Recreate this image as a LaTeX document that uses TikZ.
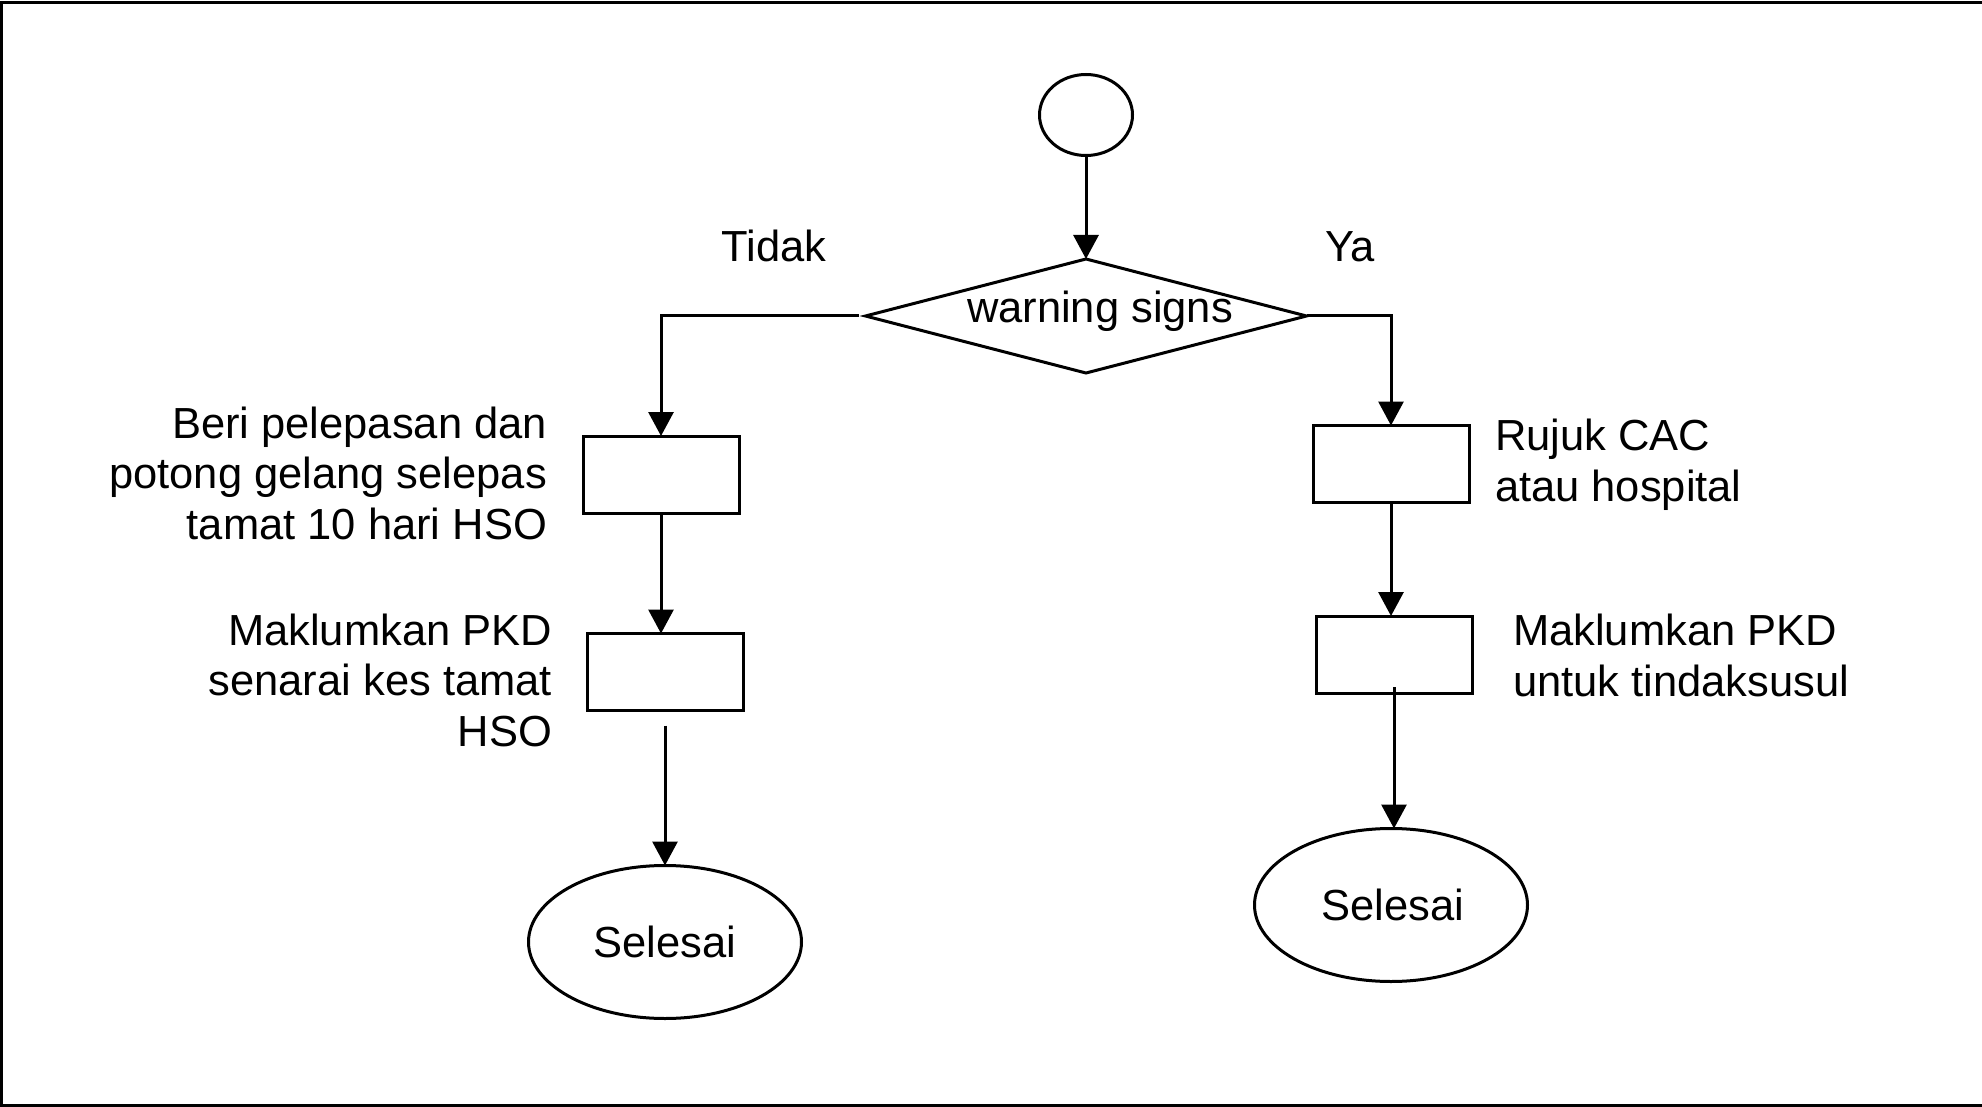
\documentclass[tikz,border=0pt]{standalone}
\usepackage{fontspec}
\setmainfont{Liberation Sans}
\usetikzlibrary{arrows.meta,shapes.geometric}
\begin{document}
\begin{tikzpicture}[x=1pt,y=-1pt,
  every node/.style={inner sep=0pt,outer sep=0pt},
  lw/.style={line width=3pt},
  procbox/.style={lw,draw,rectangle,minimum width=156pt,minimum height=77pt},
  termo/.style={lw,draw,ellipse,minimum width=273pt,minimum height=153pt},
  lbl/.style={font=\fontsize{43.5}{50.5}\selectfont},
  conn/.style={lw,-{Triangle[length=24pt,width=25pt]}},
  plain/.style={lw}]
\useasboundingbox (0,0) rectangle (1982,1107);
% frame
\draw[lw] (1.5,1107) -- (1.5,2.5) -- (1982,2.5);
\draw[lw] (1.5,1105.5) -- (1982,1105.5);
% nodes
\node[lw,draw,ellipse,minimum width=93pt,minimum height=81pt] (start) at (1086,115) {};
\node[lw,draw,diamond,minimum width=441pt,minimum height=114pt] (dec) at (1086,316) {};
\node[lbl,anchor=base] (dectxt) at (1100,323) {warning signs};
\node[lbl,anchor=base] (tidak) at (774,262) {Tidak};
\node[lbl,anchor=base] (ya) at (1350,262) {Ya};
\node[procbox] (lb1) at (661,474.5) {};
\node[procbox] (lb2) at (665,672) {};
\node[termo] (lend) at (665,942) {};
\node[lbl] at (665,942) (lendtxt) {Selesai};
\node[procbox] (rb1) at (1391,464) {};
\node[procbox] (rb2) at (1394,654.5) {};
\node[termo] (rend) at (1391,905) {};
\node[lbl] at (1393,905) (rendtxt) {Selesai};
% labels (base anchor = last line baseline)
\node[lbl,align=right,anchor=base east] (ll1) at (547,539) {Beri pelepasan dan\\potong gelang selepas\\tamat 10 hari HSO};
\node[lbl,align=right,anchor=base east] (ll2) at (552,746) {Maklumkan PKD\\senarai kes tamat\\HSO};
\node[lbl,align=left,anchor=base west] (rl1) at (1495,501) {Rujuk CAC\\atau hospital};
\node[lbl,align=left,anchor=base west] (rl2) at (1513,696) {Maklumkan PKD\\untuk tindaksusul};
% connectors
\draw[conn] (start.south) -- (dec.north);
\draw[conn] ([xshift=-7pt]dec.west) -| (lb1.north);
\draw[conn] (dec.east) -| (rb1.north);
\draw[conn] (lb1.south) -- (lb1.south |- lb2.north);
\draw[conn] (rb1.south) -- (rb1.south |- rb2.north);
\draw[conn,shorten <=15pt] (lb2.south) -- (lend.north);
\draw[conn,shorten <=-6pt] (rb2.south) -- (rb2.south |- rend.north);
\end{tikzpicture}
\end{document}
